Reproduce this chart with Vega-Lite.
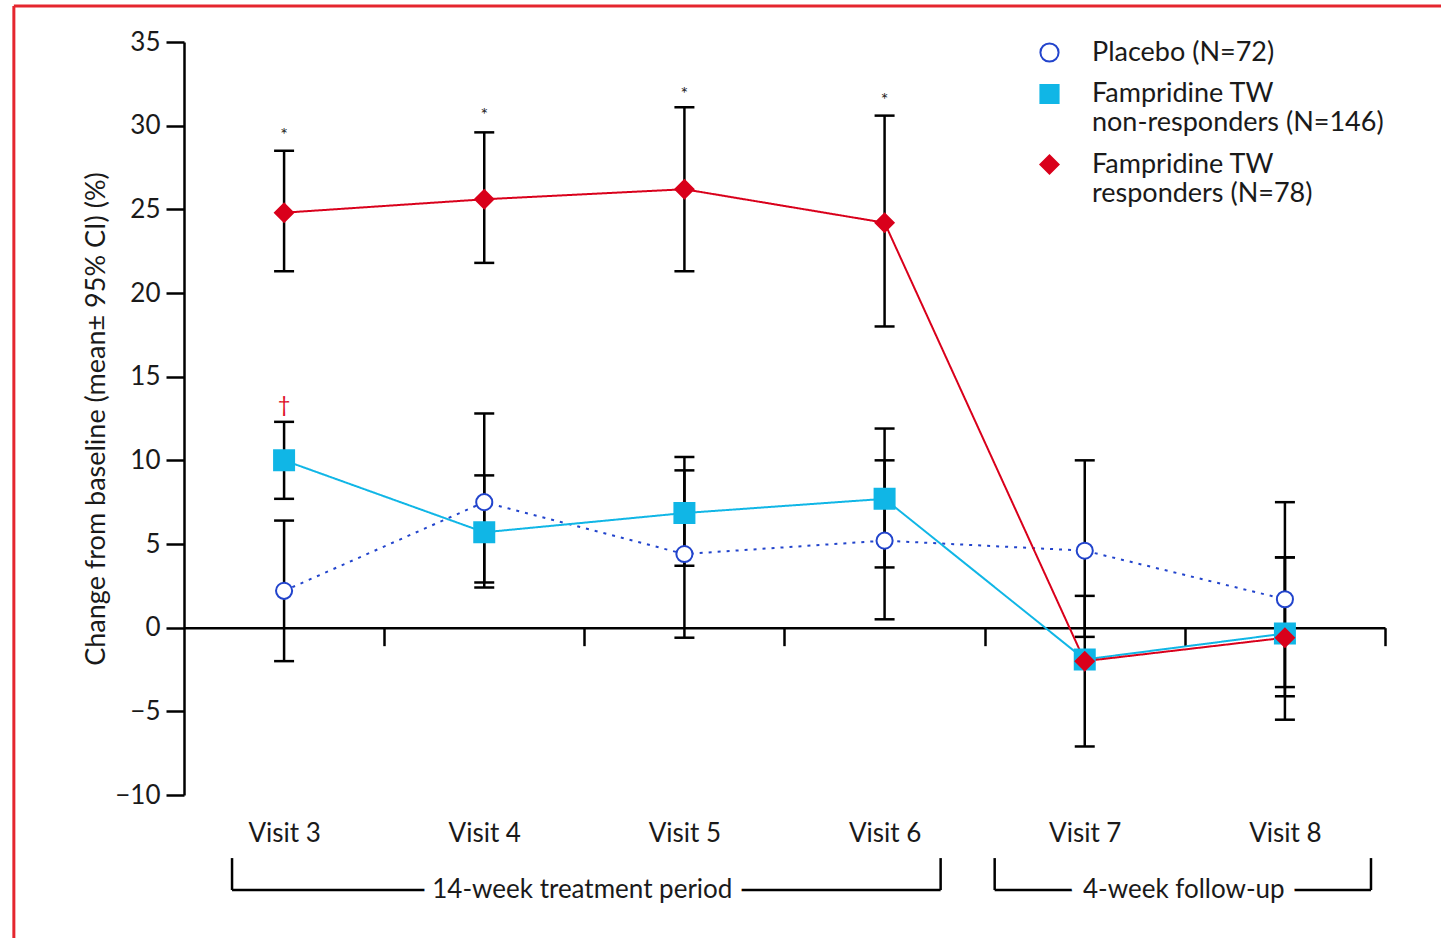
{
  "$schema": "https://vega.github.io/schema/vega-lite/v6.json",
  "width": 1201,
  "height": 753,
  "autosize": {"type": "none"},
  "padding": {"left": 184, "top": 42, "right": 56, "bottom": 143},
  "background": "white",
  "config": {
    "view": {"stroke": null},
    "font": "Lato",
    "axis": {"grid": false, "domainColor": "black", "tickColor": "black", "labelColor": "#1a1a1a", "titleColor": "#1a1a1a", "labelFont": "Lato", "titleFont": "Lato"},
    "legend": {"labelFont": "Lato", "labelFontSize": 27, "labelColor": "#1a1a1a", "labelLimit": 0, "padding": 0}
  },
  "datasets": {
    "stats": [
      {"visit": 3, "group": "Placebo (N=72)", "mean": 2.2, "lo": -2.0, "hi": 6.4},
      {"visit": 4, "group": "Placebo (N=72)", "mean": 7.5, "lo": 2.4, "hi": 12.8},
      {"visit": 5, "group": "Placebo (N=72)", "mean": 4.4, "lo": -0.6, "hi": 9.4},
      {"visit": 6, "group": "Placebo (N=72)", "mean": 5.2, "lo": 0.5, "hi": 10.0},
      {"visit": 7, "group": "Placebo (N=72)", "mean": 4.6, "lo": -0.55, "hi": 10.0},
      {"visit": 8, "group": "Placebo (N=72)", "mean": 1.7, "lo": -4.1, "hi": 7.5},
      {"visit": 3, "group": "Fampridine TW non-responders (N=146)", "mean": 10.0, "lo": 7.7, "hi": 12.3},
      {"visit": 4, "group": "Fampridine TW non-responders (N=146)", "mean": 5.7, "lo": 2.7, "hi": 9.1},
      {"visit": 5, "group": "Fampridine TW non-responders (N=146)", "mean": 6.85, "lo": 3.7, "hi": 10.2},
      {"visit": 6, "group": "Fampridine TW non-responders (N=146)", "mean": 7.7, "lo": 3.6, "hi": 11.9},
      {"visit": 7, "group": "Fampridine TW non-responders (N=146)", "mean": -1.9, "lo": null, "hi": null},
      {"visit": 8, "group": "Fampridine TW non-responders (N=146)", "mean": -0.35, "lo": -3.55, "hi": 4.2},
      {"visit": 3, "group": "Fampridine TW responders (N=78)", "mean": 24.8, "lo": 21.3, "hi": 28.5},
      {"visit": 4, "group": "Fampridine TW responders (N=78)", "mean": 25.6, "lo": 21.8, "hi": 29.6},
      {"visit": 5, "group": "Fampridine TW responders (N=78)", "mean": 26.2, "lo": 21.3, "hi": 31.1},
      {"visit": 6, "group": "Fampridine TW responders (N=78)", "mean": 24.2, "lo": 18.0, "hi": 30.6},
      {"visit": 7, "group": "Fampridine TW responders (N=78)", "mean": -2.0, "lo": -7.1, "hi": 1.9},
      {"visit": 8, "group": "Fampridine TW responders (N=78)", "mean": -0.6, "lo": -5.5, "hi": 4.2}
    ],
    "periods": [
      {"period": "14-week treatment period", "start": 2.74, "end": 6.28, "mid": 4.49},
      {"period": "4-week follow-up", "start": 6.55, "end": 8.43, "mid": 7.495}
    ],
    "notes": [
      {"visit": 3, "note": "*", "y": 29.6},
      {"visit": 4, "note": "*", "y": 30.8},
      {"visit": 5, "note": "*", "y": 32.1},
      {"visit": 6, "note": "*", "y": 31.7},
      {"visit": 3, "note": "†", "y": 13.3}
    ]
  },
  "layer": [
    {
      "data": {"values": [{}]},
      "mark": {"type": "rule", "color": "#e5262e", "strokeWidth": 3},
      "encoding": {"x": {"datum": 1.65}, "x2": {"datum": 9.0}, "y": {"datum": 37.15}}
    },
    {
      "data": {"values": [{}]},
      "mark": {"type": "rule", "color": "#e5262e", "strokeWidth": 3},
      "encoding": {"x": {"datum": 1.65}, "y": {"datum": 37.15}, "y2": {"datum": -20}}
    },
    {
      "data": {"name": "periods"},
      "mark": {"type": "rule", "color": "black", "strokeWidth": 2.5},
      "encoding": {"x": {"field": "start", "type": "quantitative"}, "x2": {"field": "end"}, "y": {"datum": -15.68}}
    },
    {
      "data": {"name": "periods"},
      "mark": {"type": "rule", "color": "black", "strokeWidth": 2.5},
      "encoding": {"x": {"field": "start", "type": "quantitative"}, "y": {"datum": -13.77}, "y2": {"datum": -15.68}}
    },
    {
      "data": {"name": "periods"},
      "mark": {"type": "rule", "color": "black", "strokeWidth": 2.5},
      "encoding": {"x": {"field": "end", "type": "quantitative"}, "y": {"datum": -13.77}, "y2": {"datum": -15.68}}
    },
    {
      "data": {"name": "periods"},
      "mark": {"type": "text", "fontSize": 26, "font": "Lato", "fill": "white", "stroke": "white", "strokeWidth": 22, "baseline": "middle"},
      "encoding": {"x": {"field": "mid", "type": "quantitative"}, "y": {"datum": -15.68}, "text": {"field": "period"}}
    },
    {
      "data": {"name": "periods"},
      "mark": {"type": "text", "fontSize": 26, "font": "Lato", "color": "#1a1a1a", "baseline": "middle"},
      "encoding": {"x": {"field": "mid", "type": "quantitative"}, "y": {"datum": -15.68}, "text": {"field": "period"}}
    },
    {
      "data": {"name": "stats"},
      "layer": [
        {
          "mark": {"type": "rule", "color": "black", "strokeWidth": 2.5},
          "encoding": {"x": {"field": "visit", "type": "quantitative"}, "y": {"field": "lo", "type": "quantitative"}, "y2": {"field": "hi"}}
        },
        {
          "mark": {"type": "tick", "orient": "horizontal", "color": "black", "size": 20, "thickness": 2.5, "opacity": 1},
          "encoding": {"x": {"field": "visit", "type": "quantitative"}, "y": {"field": "lo", "type": "quantitative"}}
        },
        {
          "mark": {"type": "tick", "orient": "horizontal", "color": "black", "size": 20, "thickness": 2.5, "opacity": 1},
          "encoding": {"x": {"field": "visit", "type": "quantitative"}, "y": {"field": "hi", "type": "quantitative"}}
        },
        {
          "mark": {"type": "line", "strokeWidth": 2},
          "encoding": {
            "x": {
              "field": "visit", "type": "quantitative",
              "scale": {"domain": [2.5, 8.5], "nice": false, "zero": false},
              "axis": {
                "title": null, "values": [3, 4, 5, 6, 7, 8], "offset": -167.33,
                "tickOffset": 100, "labelOffset": -100, "tickSize": 18, "tickWidth": 2.5,
                "domainWidth": 2.5, "labelExpr": "'Visit ' + datum.value", "labelFontSize": 26,
                "labelPadding": 175, "labelOverlap": false, "labelFlush": false, "grid": false
              }
            },
            "y": {
              "field": "mean", "type": "quantitative",
              "scale": {"domain": [-10, 35], "nice": false, "zero": false},
              "axis": {
                "title": "Change from baseline (mean± 95% CI) (%)",
                "values": [-10, -5, 0, 5, 10, 15, 20, 25, 30, 35],
                "tickSize": 18, "tickWidth": 2.5, "domainWidth": 2.5, "labelFontSize": 26,
                "labelPadding": 6, "titleFontSize": 27, "titleFontWeight": "normal",
                "titlePadding": 4, "labelFlush": false, "grid": false
              }
            },
            "color": {
              "field": "group", "type": "nominal",
              "scale": {"range": ["#10b6e6", "#d9001b", "#2244cc"]},
              "legend": null
            },
            "strokeDash": {
              "field": "group", "type": "nominal",
              "scale": {"range": [[1, 0], [1, 0], [3, 6]]},
              "legend": null
            }
          }
        },
        {
          "mark": {"type": "point", "filled": true, "opacity": 1, "strokeWidth": 2},
          "encoding": {
            "x": {"field": "visit", "type": "quantitative"},
            "y": {"field": "mean", "type": "quantitative"},
            "shape": {
              "field": "group", "type": "nominal",
              "scale": {"domain": ["Placebo (N=72)", "Fampridine TW non-responders (N=146)", "Fampridine TW responders (N=78)"], "range": ["circle", "square", "diamond"]},
              "legend": {
                "title": null, "orient": "none", "legendX": 852, "legendY": -3,
                "symbolSize": 330, "symbolStrokeWidth": 2,
                "labelOffset": 29, "labelBaseline": "middle", "rowPadding": 13.5,
                "labelExpr": "indexof(datum.label, 'TW ') > 0 ? ['Fampridine TW', substring(datum.label, 14)] : datum.label",
                "zindex": 2
              }
            },
            "fill": {
              "field": "group", "type": "nominal",
              "scale": {"domain": ["Placebo (N=72)", "Fampridine TW non-responders (N=146)", "Fampridine TW responders (N=78)"], "range": ["white", "#10b6e6", "#d9001b"]},
              "legend": {
                "title": null, "orient": "none", "legendX": 852, "legendY": -3,
                "symbolSize": 330, "symbolStrokeWidth": 2,
                "labelOffset": 29, "labelBaseline": "middle", "rowPadding": 13.5,
                "labelExpr": "indexof(datum.label, 'TW ') > 0 ? ['Fampridine TW', substring(datum.label, 14)] : datum.label",
                "zindex": 2
              }
            },
            "stroke": {
              "field": "group", "type": "nominal",
              "scale": {"domain": ["Placebo (N=72)", "Fampridine TW non-responders (N=146)", "Fampridine TW responders (N=78)"], "range": ["#2244cc", "#10b6e6", "#d9001b"]},
              "legend": {
                "title": null, "orient": "none", "legendX": 852, "legendY": -3,
                "symbolSize": 330, "symbolStrokeWidth": 2,
                "labelOffset": 29, "labelBaseline": "middle", "rowPadding": 13.5,
                "labelExpr": "indexof(datum.label, 'TW ') > 0 ? ['Fampridine TW', substring(datum.label, 14)] : datum.label",
                "zindex": 2
              }
            },
            "size": {
              "field": "group", "type": "nominal",
              "scale": {"range": [400, 260, 330]},
              "legend": null
            }
          }
        }
      ]
    },
    {
      "data": {"name": "notes"},
      "transform": [{"filter": "datum.note == '*'"}],
      "mark": {"type": "text", "fontSize": 18, "font": "Lato", "color": "#222222", "baseline": "middle", "dy": 4},
      "encoding": {"x": {"field": "visit", "type": "quantitative"}, "y": {"field": "y", "type": "quantitative"}, "text": {"field": "note"}}
    },
    {
      "data": {"name": "notes"},
      "transform": [{"filter": "datum.note == '†'"}],
      "mark": {"type": "text", "fontSize": 22, "font": "Lato", "color": "#e0102a", "baseline": "middle"},
      "encoding": {"x": {"field": "visit", "type": "quantitative"}, "y": {"field": "y", "type": "quantitative"}, "text": {"field": "note"}}
    }
  ]
}
